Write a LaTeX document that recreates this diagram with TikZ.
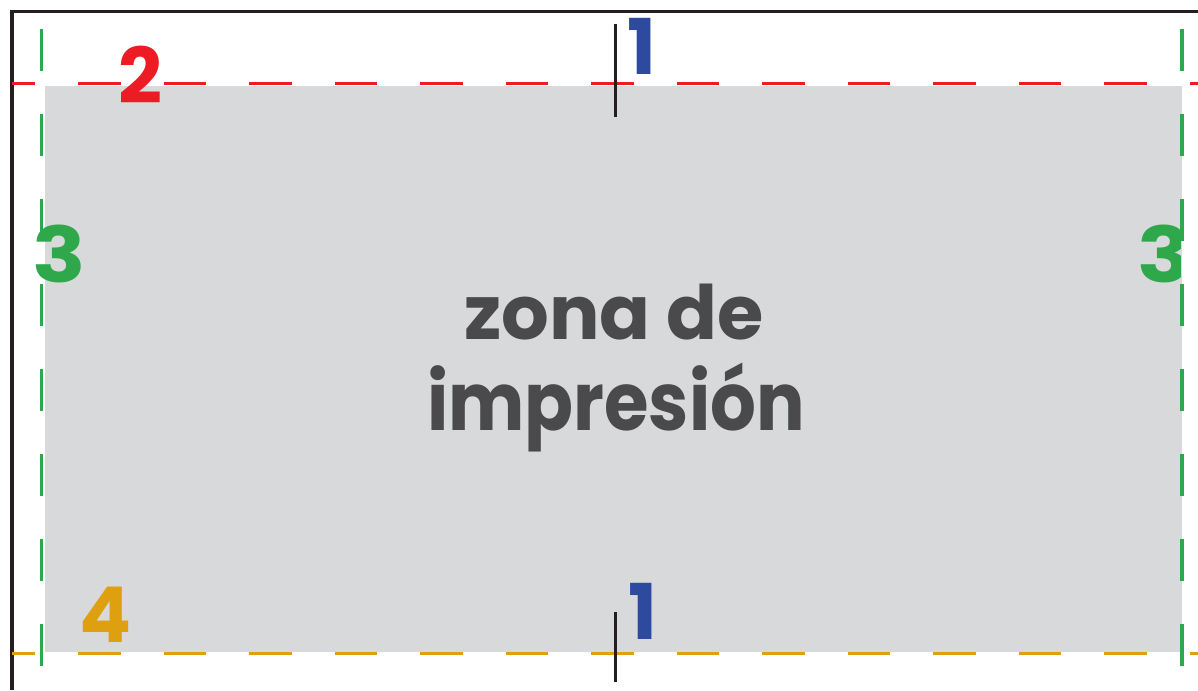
\documentclass[tikz,border=0pt]{standalone}
\usepackage{fontspec}
\setmainfont{Poppins}
\definecolor{rojo}{HTML}{ED1C24}
\definecolor{azul}{HTML}{2E4A9F}
\definecolor{verde}{HTML}{2EA84A}
\definecolor{ambar}{HTML}{DFA010}
\definecolor{gris}{HTML}{D8D9DB}
\definecolor{texto}{HTML}{4A4A4D}
\definecolor{marco}{HTML}{231F20}

\begin{document}
\begin{tikzpicture}[x=1pt,y=-1pt,
    corte/.style={line width=3.3pt,dash pattern=on 42.5pt off 43pt,dash phase=19.5pt},
    margen/.style={line width=3.3pt,verde,dash pattern=on 42pt off 43pt},
    numero/.style={inner sep=0pt,anchor=base,font=\bfseries\fontsize{77}{77}\selectfont}]
    \useasboundingbox (0,0) rectangle (1198,690);
    % marco exterior
    \draw[marco,line width=3.5pt] (11.8,690) -- (11.8,11.5) -- (1198,11.5);
    % zona de impresion
    \fill[gris] (45,86) rectangle (1181.7,652);
    \node[texto,inner sep=0pt,anchor=base,font=\bfseries\fontsize{75}{75}\selectfont] (zona) at (614,339) {zona de};
    \node[texto,inner sep=0pt,anchor=base,font=\bfseries\fontsize{81}{81}\selectfont] (impresion) at (616,430) {\scalebox{0.89}[1]{impresión}};
    % lineas de corte y margen
    \draw[corte,rojo] (12,83.3) -- (1198,83.3);
    \draw[corte,ambar] (12,653.7) -- (1198,653.7);
    \draw[margen] (41.7,29) -- (41.7,666);
    \draw[margen] (1182,29) -- (1182,666);
    % marcas centrales
    \draw[marco,line width=2.8pt] (615.7,24) -- (615.7,117);
    \draw[marco,line width=2.8pt] (615.7,612) -- (615.7,682);
    % numeros
    \node[numero,azul] (unoarriba) at (642,75) {1};
    \node[numero,azul] (unoabajo) at (642.5,639) {1};
    \node[numero,rojo] (dos) at (140,103) {2};
    \node[numero,verde] (tresizq) at (59,282) {\scalebox{1.15}[1]{3}};
    \begin{scope}
        \clip (0,0) rectangle (1180.5,690);
        \node[numero,verde] (tresder) at (1164,282) {\scalebox{1.15}[1]{3}};
    \end{scope}
    \node[numero,ambar] (cuatro) at (105.5,642) {4};
\end{tikzpicture}
\end{document}
